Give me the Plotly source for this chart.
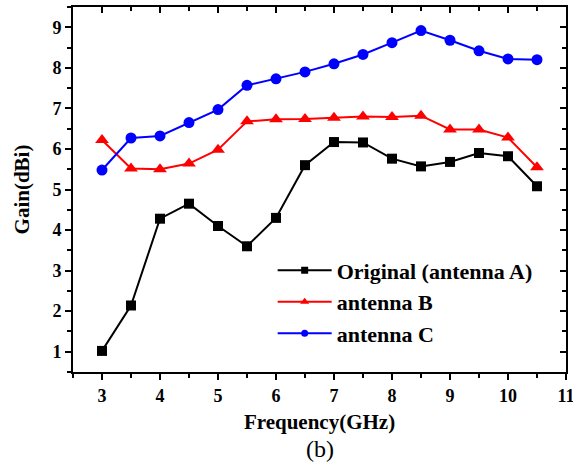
import plotly.graph_objects as go

freq = [3, 3.5, 4, 4.5, 5, 5.5, 6, 6.5, 7, 7.5, 8, 8.5, 9, 9.5, 10, 10.5]
gain_a = [1.02, 2.14, 4.28, 4.65, 4.10, 3.60, 4.30, 5.60, 6.17, 6.16, 5.76, 5.57, 5.68, 5.90, 5.82, 5.08]
gain_b = [6.22, 5.52, 5.50, 5.64, 5.98, 6.68, 6.73, 6.74, 6.77, 6.80, 6.79, 6.82, 6.48, 6.48, 6.28, 5.55]
gain_c = [5.48, 6.27, 6.32, 6.65, 6.97, 7.57, 7.73, 7.90, 8.10, 8.33, 8.62, 8.92, 8.68, 8.42, 8.22, 8.20]
names = ["Original (antenna A)", "antenna B", "antenna C"]
x_ticks = [3, 4, 5, 6, 7, 8, 9, 10, 11]
y_ticks = [1, 2, 3, 4, 5, 6, 7, 8, 9]

FONT = "Liberation Serif"
series = [
    (gain_a, names[0], "black", "square", 10, 7),
    (gain_b, names[1], "red", "triangle-up", 12, 8),
    (gain_c, names[2], "blue", "circle", 11, 7),
]
fig = go.Figure()
for vals, nm, col, sym, sz, lsz in series:
    fig.add_trace(go.Scatter(x=freq, y=vals, name=nm, mode="lines+markers", showlegend=False,
                             line=dict(color=col, width=2),
                             marker=dict(symbol=sym, size=sz, color=col)))
for vals, nm, col, sym, sz, lsz in series:
    fig.add_trace(go.Scatter(x=[None], y=[None], name=nm, mode="lines+markers",
                             line=dict(color=col, width=2),
                             marker=dict(symbol=sym, size=lsz, color=col)))
fig.add_trace(go.Scatter(x=[], y=[], xaxis="x2", yaxis="y2", showlegend=False))

axis_common = dict(showgrid=False, zeroline=False, showline=True, linecolor="black", linewidth=2,
                   tickcolor="black", ticklen=6, tickwidth=1.5, automargin=False)
XR = [2.5, 11.0001]
YR = [0.5, 9.5]
fig.update_layout(
    width=573, height=466,
    margin=dict(l=73, r=7, t=7, b=94, autoexpand=False),
    paper_bgcolor="white", plot_bgcolor="white",
    font=dict(family=FONT, color="black"),
    xaxis=dict(range=XR, tickvals=x_ticks, ticks="outside", ticklabeloverflow="allow",
               tickfont=dict(size=18, family=FONT, weight="bold"),
               minor=dict(dtick=0.5, tick0=0, ticks="outside", ticklen=4, tickcolor="black", tickwidth=1.5),
               title=dict(text="<b>Frequency(GHz)</b>", font=dict(size=21, family=FONT), standoff=10),
               **axis_common),
    yaxis=dict(range=YR, tickvals=y_ticks, ticks="outside",
               tickfont=dict(size=18, family=FONT, weight="bold"),
               minor=dict(dtick=0.5, tick0=0, ticks="outside", ticklen=4, tickcolor="black", tickwidth=1.5),
               title=dict(text="<b>Gain(dBi)</b>", font=dict(size=21, family=FONT), standoff=17),
               **axis_common),
    xaxis2=dict(range=XR, overlaying="x", side="top", tickvals=x_ticks, ticks="inside",
                showticklabels=False,
                minor=dict(dtick=0.5, tick0=0, ticks="inside", ticklen=4, tickcolor="black", tickwidth=1.5),
                **axis_common),
    yaxis2=dict(range=YR, overlaying="y", side="right", tickvals=y_ticks, ticks="inside",
                showticklabels=False,
                minor=dict(dtick=0.5, tick0=0, ticks="inside", ticklen=4, tickcolor="black", tickwidth=1.5),
                **axis_common),
    legend=dict(x=0.405, y=0.336, xanchor="left", yanchor="top", bgcolor="rgba(0,0,0,0)",
                font=dict(size=22, family=FONT, weight="bold"), itemwidth=54, tracegroupgap=0),
    showlegend=True,
)
fig.add_annotation(text="(b)", x=0.5, y=-0.212, xref="paper", yref="paper", showarrow=False,
                   yanchor="middle", font=dict(size=24, family=FONT, color="black"))
fig.write_html("out.html")
